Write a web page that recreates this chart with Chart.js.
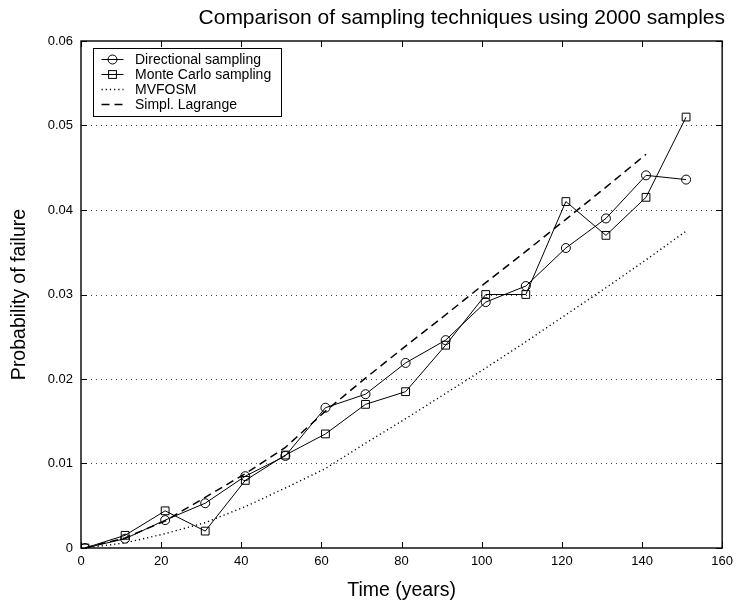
<!DOCTYPE html>
<html><head><meta charset="utf-8">
<script src="https://cdn.jsdelivr.net/npm/chart.js@4/dist/chart.umd.min.js"></script>
<style>html,body{margin:0;padding:0;background:#fff;} #wrap{width:739px;height:608px;}</style>
</head><body><div id="wrap"><canvas id="c" width="739" height="608"></canvas></div>
<script>
const FONT = '"Liberation Sans", Arial, Helvetica, sans-serif';
const chartTitle = 'Comparison of sampling techniques using 2000 samples';
const xTitle = 'Time (years)';
const yTitle = 'Probability of failure';
const seriesNames = ['Directional sampling', 'Monte Carlo sampling', 'MVFOSM', 'Simpl. Lagrange'];
const years = [1, 11, 21, 31, 41, 51, 61, 71, 81, 91, 101, 111, 121, 131, 141, 151];
const directional = [0, 0.0011, 0.0033, 0.0053, 0.0085, 0.0109, 0.0166, 0.0182, 0.0219, 0.0246, 0.0291, 0.0310, 0.0355, 0.0390, 0.0441, 0.0436];
const monteCarlo = [0, 0.0015, 0.0044, 0.0020, 0.0080, 0.0110, 0.0135, 0.0170, 0.0185, 0.0240, 0.0300, 0.0300, 0.0410, 0.0370, 0.0415, 0.0510];
const mvfosm = [0, 0.0006, 0.0017, 0.0030, 0.0049, 0.0071, 0.0094, 0.0124, 0.0153, 0.0183, 0.0213, 0.0244, 0.0276, 0.0308, 0.0341, 0.0375];
const lagrangeYears = [1, 11, 21, 31, 41, 51, 61, 71, 81, 91, 101, 111, 121, 131, 141];
const lagrange = [0, 0.0012, 0.0032, 0.0060, 0.0088, 0.0119, 0.0162, 0.0201, 0.0239, 0.0276, 0.0314, 0.0351, 0.0389, 0.0427, 0.0466];
const xTicks = [0, 20, 40, 60, 80, 100, 120, 140, 160];
const yTicks = [0, 0.01, 0.02, 0.03, 0.04, 0.05, 0.06];

const pts = (xs, ys) => xs.map((x, i) => ({x: x, y: ys[i]}));

const matlabPlugin = {
  id: 'matlab',
  beforeDraw(chart) {
    const ctx = chart.ctx;
    ctx.save();
    ctx.fillStyle = '#fff';
    ctx.fillRect(0, 0, chart.width, chart.height);
    ctx.restore();
  },
  beforeDatasetsDraw(chart) {
    const {ctx, chartArea: a, scales: {y}} = chart;
    ctx.save();
    ctx.strokeStyle = '#444';
    ctx.lineWidth = 1;
    ctx.setLineDash([1, 4]);
    yTicks.forEach(v => {
      if (v <= y.min || v >= y.max) return;
      const py = Math.round(y.getPixelForValue(v)) + 0.5;
      ctx.beginPath(); ctx.moveTo(a.left, py); ctx.lineTo(a.right, py); ctx.stroke();
    });
    ctx.restore();
  },
  afterDatasetsDraw(chart) {
    const {ctx, chartArea: a, scales: {x, y}} = chart;
    ctx.save();
    ctx.strokeStyle = '#000';
    ctx.lineWidth = 1.4;
    ctx.setLineDash([]);
    ctx.strokeRect(a.left, a.top, a.right - a.left, a.bottom - a.top);
    const tl = 6;
    ctx.lineWidth = 1;
    xTicks.forEach(v => {
      const px = Math.round(x.getPixelForValue(v)) + 0.5;
      ctx.beginPath();
      ctx.moveTo(px, a.bottom); ctx.lineTo(px, a.bottom - tl);
      ctx.moveTo(px, a.top); ctx.lineTo(px, a.top + tl);
      ctx.stroke();
    });
    yTicks.forEach(v => {
      const py = Math.round(y.getPixelForValue(v)) + 0.5;
      ctx.beginPath();
      ctx.moveTo(a.left, py); ctx.lineTo(a.left + tl, py);
      ctx.moveTo(a.right, py); ctx.lineTo(a.right - tl, py);
      ctx.stroke();
    });
    // legend
    const bx = 93.5, by = 48.5, bw = 188, bh = 68;
    ctx.fillStyle = '#fff';
    ctx.fillRect(bx, by, bw, bh);
    ctx.strokeStyle = '#000';
    ctx.lineWidth = 1;
    ctx.strokeRect(bx, by, bw, bh);
    const rows = [59.5, 74.5, 89.5, 104.5];
    ctx.font = '14px ' + FONT;
    ctx.textBaseline = 'middle';
    ctx.textAlign = 'left';
    chart.data.datasets.forEach((ds, i) => {
      const ry = rows[i];
      ctx.strokeStyle = '#000';
      ctx.lineWidth = ds.borderWidth;
      ctx.setLineDash(ds.borderDash || []);
      ctx.beginPath(); ctx.moveTo(101.5, ry); ctx.lineTo(123.5, ry); ctx.stroke();
      ctx.setLineDash([]);
      ctx.lineWidth = 1;
      if (ds.pointStyle === 'circle') {
        ctx.beginPath(); ctx.arc(112.5, ry, 4.5, 0, Math.PI * 2); ctx.stroke();
      } else if (ds.pointStyle === 'rect') {
        ctx.strokeRect(112.5 - 3.9, ry - 3.9, 7.8, 7.8);
      }
      ctx.fillStyle = '#000';
      ctx.fillText(ds.label, 135, ry + 0.5);
    });
    ctx.restore();
  }
};

new Chart(document.getElementById('c'), {
  type: 'line',
  data: {
    datasets: [
      {label: seriesNames[0], data: pts(years, directional), borderColor: '#000', borderWidth: 1,
       pointStyle: 'circle', pointRadius: 4.5, pointBorderWidth: 1, pointBorderColor: '#000', pointBackgroundColor: 'rgba(0,0,0,0)', tension: 0},
      {label: seriesNames[1], data: pts(years, monteCarlo), borderColor: '#000', borderWidth: 1,
       pointStyle: 'rect', pointRadius: 5.5, pointBorderWidth: 1, pointBorderColor: '#000', pointBackgroundColor: 'rgba(0,0,0,0)', tension: 0},
      {label: seriesNames[2], data: pts(years, mvfosm), borderColor: '#000', borderWidth: 1.4, borderDash: [1.2, 3],
       pointRadius: 0, tension: 0},
      {label: seriesNames[3], data: pts(lagrangeYears, lagrange), borderColor: '#000', borderWidth: 1.5, borderDash: [8, 5],
       pointRadius: 0, tension: 0}
    ]
  },
  options: {
    responsive: false,
    animation: false,
    devicePixelRatio: 1,
    layout: {padding: {left: 0, right: 14, top: 0, bottom: 0}},
    plugins: {
      legend: {display: false},
      tooltip: {enabled: false},
      title: {display: true, text: chartTitle, fullSize: true, align: 'end', color: '#000',
        font: {family: FONT, size: 21, weight: 'normal', lineHeight: 1.2}, padding: {top: 5.4, bottom: 10.4}}
    },
    scales: {
      x: {
        type: 'linear', min: 0, max: 160,
        afterFit(s) { s.height = 60; },
        afterBuildTicks(s) { s.ticks = xTicks.map(v => ({value: v})); },
        grid: {display: false, drawTicks: false},
        border: {display: false},
        ticks: {padding: 6, color: '#000', maxRotation: 0, autoSkip: false, font: {family: FONT, size: 13}},
        title: {display: true, text: xTitle, color: '#000', font: {family: FONT, size: 19.5, lineHeight: 1.2}, padding: {top: 0, bottom: 5.3}}
      },
      y: {
        type: 'linear', min: 0, max: 0.06,
        afterFit(s) { s.width = 81; },
        afterBuildTicks(s) { s.ticks = yTicks.map(v => ({value: v})); },
        grid: {display: false, drawTicks: false},
        border: {display: false},
        ticks: {padding: 8, color: '#000', autoSkip: false, font: {family: FONT, size: 13},
          callback: v => (Math.abs(v) < 1e-9 ? '0' : v.toFixed(2))},
        title: {display: true, text: yTitle, color: '#000', font: {family: FONT, size: 19.5, lineHeight: 1.2}, padding: {top: 8.3, bottom: 0}}
      }
    }
  },
  plugins: [matlabPlugin]
});
</script>
</body></html>
